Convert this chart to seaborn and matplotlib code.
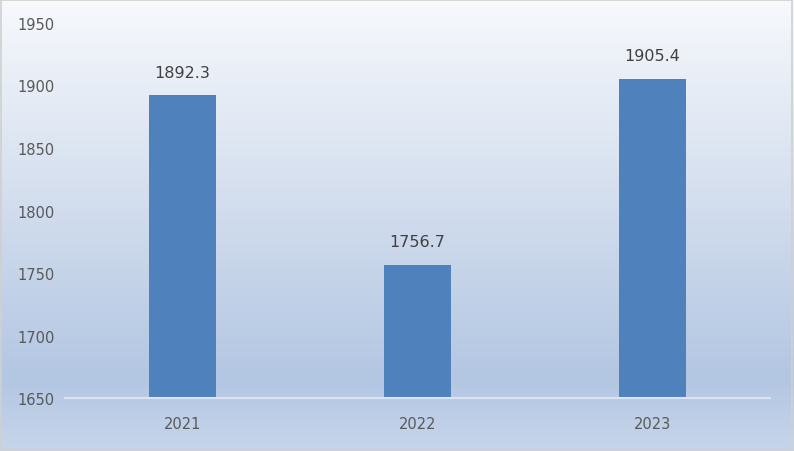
import numpy as np
import pandas as pd
import seaborn as sns
import matplotlib.pyplot as plt
from matplotlib.colors import LinearSegmentedColormap

years = ["2021", "2022", "2023"]
values = [1892.3, 1756.7, 1905.4]
y_ticks = [1650, 1700, 1750, 1800, 1850, 1900, 1950]

df = pd.DataFrame({"year": years, "value": values})

sns.set_theme(style="white")
plt.rcParams['font.family'] = ['DejaVu Sans']

fig = plt.figure(figsize=(7.94, 4.52), dpi=100)

# фон с градиентом
bg = fig.add_axes([0, 0, 1, 1], zorder=0)
cmap = LinearSegmentedColormap.from_list(
    "bg", [(0.0, "#f7f9fc"), (0.84, "#b3c6e2"), (1.0, "#c6d5ea")])
grad = np.linspace(0, 1, 256).reshape(-1, 1)
bg.imshow(grad, aspect="auto", cmap=cmap, extent=[0, 1, 0, 1], origin="upper")
bg.set_xlim(0, 1)
bg.set_ylim(0, 1)
bg.axis("off")
fig.patches.append(plt.Rectangle((0.001, 0.002), 0.997, 0.996, transform=fig.transFigure,
                                 fill=False, edgecolor="#d0d0d0", linewidth=1.2, zorder=5))

ax = fig.add_axes([0.082, 0.117, 0.888, 0.83], zorder=1)
ax.patch.set_alpha(0)
sns.barplot(data=df, x="year", y="value", order=years, color="#4f81bd",
            width=0.285, saturation=1, linewidth=0, ax=ax)

ax.set_ylim(1650, 1950)
ax.set_xlim(-0.5, 2.5)
ax.set_yticks(y_ticks)
ax.set_xlabel("")
ax.set_ylabel("")
ax.tick_params(axis="both", length=0, colors="#595959", labelsize=10.5)
ax.tick_params(axis="x", pad=13)
for lab in ax.get_yticklabels():
    lab.set_horizontalalignment("left")
ax.yaxis.set_tick_params(pad=34)

for s in ["left", "right", "top"]:
    ax.spines[s].set_visible(False)
ax.spines["bottom"].set_color("#dbe4f0")
ax.spines["bottom"].set_linewidth(1.5)

ax.bar_label(ax.containers[0], fmt="%.1f", padding=11, fontsize=11.5, color="#404040")

fig.savefig("out.png", dpi=100)
